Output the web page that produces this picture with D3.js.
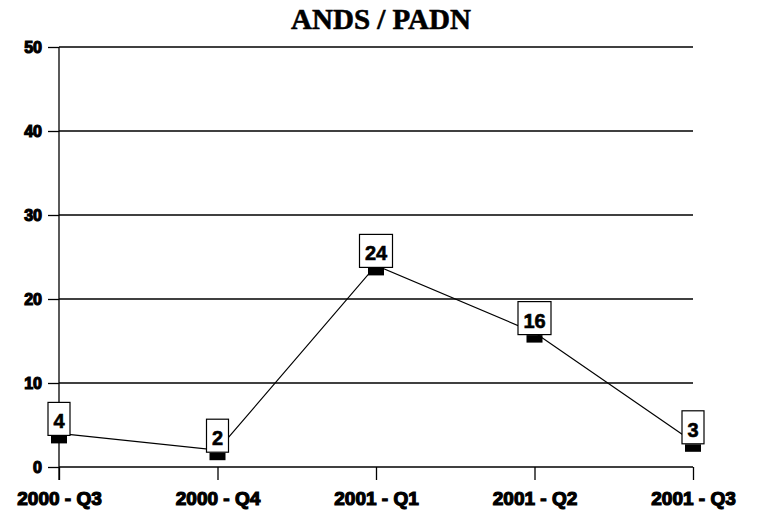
<!DOCTYPE html>
<html>
<head>
<meta charset="utf-8">
<script src="https://cdn.jsdelivr.net/npm/d3@7"></script>
<style>
  html, body { margin: 0; padding: 0; background: #fff; }
  svg { display: block; }
</style>
</head>
<body>
<svg id="chart" width="759" height="515"></svg>
<script>
const categories = ["2000 - Q3", "2000 - Q4", "2001 - Q1", "2001 - Q2", "2001 - Q3"];
const values = [4, 2, 24, 16, 3];
const yTicks = [0, 10, 20, 30, 40, 50];
const title = "ANDS / PADN";

const svg = d3.select("#chart");
const mLeft = 59, mRight = 693, mTop = 47, mBottom = 467;

const x = d3.scalePoint().domain(categories).range([mLeft, mRight]);
const y = d3.scaleLinear().domain([0, 50]).range([mBottom, mTop]);

// title
svg.append("text")
  .attr("x", 381).attr("y", 29)
  .attr("text-anchor", "middle")
  .attr("font-family", "'Liberation Serif', 'Times New Roman', serif")
  .attr("font-weight", "bold")
  .attr("font-size", 29)
  .attr("fill", "#000").attr("stroke", "#000").attr("stroke-width", 0.6)
  .text(title);

// y axis ticks and labels
const yAxis = d3.axisLeft(y).tickValues(yTicks).tickSize(11).tickPadding(6).tickFormat(d3.format("d"));
const gy = svg.append("g").attr("transform", `translate(${mLeft},0)`).call(yAxis);
gy.select(".domain").remove();
gy.selectAll(".tick line").attr("stroke", "#000").attr("stroke-width", 1.3);
gy.selectAll(".tick text")
  .attr("font-family", "'Liberation Sans', Arial, sans-serif")
  .attr("font-weight", "bold").attr("font-size", 16)
  .attr("fill", "#000").attr("stroke", "#000").attr("stroke-width", 1.2);

// gridlines
svg.append("g").selectAll("line").data(yTicks).join("line")
  .attr("x1", mLeft).attr("x2", mRight)
  .attr("y1", d => y(d)).attr("y2", d => y(d))
  .attr("stroke", "#000").attr("stroke-width", 1.3);

// vertical axis line
svg.append("line")
  .attr("x1", mLeft).attr("x2", mLeft)
  .attr("y1", y(50)).attr("y2", mBottom + 13)
  .attr("stroke", "#000").attr("stroke-width", 1.3);

// x axis
const xAxis = d3.axisBottom(x).tickSize(13).tickPadding(12);
const gx = svg.append("g").attr("transform", `translate(0,${mBottom})`).call(xAxis);
gx.select(".domain").remove();
gx.selectAll(".tick line").attr("stroke", "#000").attr("stroke-width", 1.3);
gx.selectAll(".tick text")
  .attr("font-family", "'Liberation Sans', Arial, sans-serif")
  .attr("font-weight", "bold").attr("font-size", 19)
  .attr("fill", "#000").attr("stroke", "#000").attr("stroke-width", 1.2);

const data = categories.map((c, i) => ({ c, v: values[i] }));

// line
svg.append("path")
  .datum(data)
  .attr("fill", "none").attr("stroke", "#000").attr("stroke-width", 1.2)
  .attr("d", d3.line().x(d => x(d.c)).y(d => y(d.v)));

// markers
svg.append("g").selectAll("rect").data(data).join("rect")
  .attr("x", d => x(d.c) - 8).attr("y", d => y(d.v) + 2.5)
  .attr("width", 16).attr("height", 7.5)
  .attr("fill", "#000");

// value labels
const lbl = svg.append("g").selectAll("g").data(data).join("g")
  .attr("transform", d => `translate(${x(d.c)},${y(d.v)})`);
lbl.append("rect")
  .attr("x", d => String(d.v).length > 1 ? -16.5 : -11)
  .attr("y", -31)
  .attr("width", d => String(d.v).length > 1 ? 33 : 22)
  .attr("height", 33)
  .attr("fill", "#fff").attr("stroke", "#000").attr("stroke-width", 1.2);
lbl.append("text")
  .attr("x", 0).attr("y", -5)
  .attr("text-anchor", "middle")
  .attr("font-family", "'Liberation Sans', Arial, sans-serif")
  .attr("font-weight", "bold").attr("font-size", 20)
  .attr("fill", "#000").attr("stroke", "#000").attr("stroke-width", 0.6)
  .text(d => d.v);
</script>
</body>
</html>
